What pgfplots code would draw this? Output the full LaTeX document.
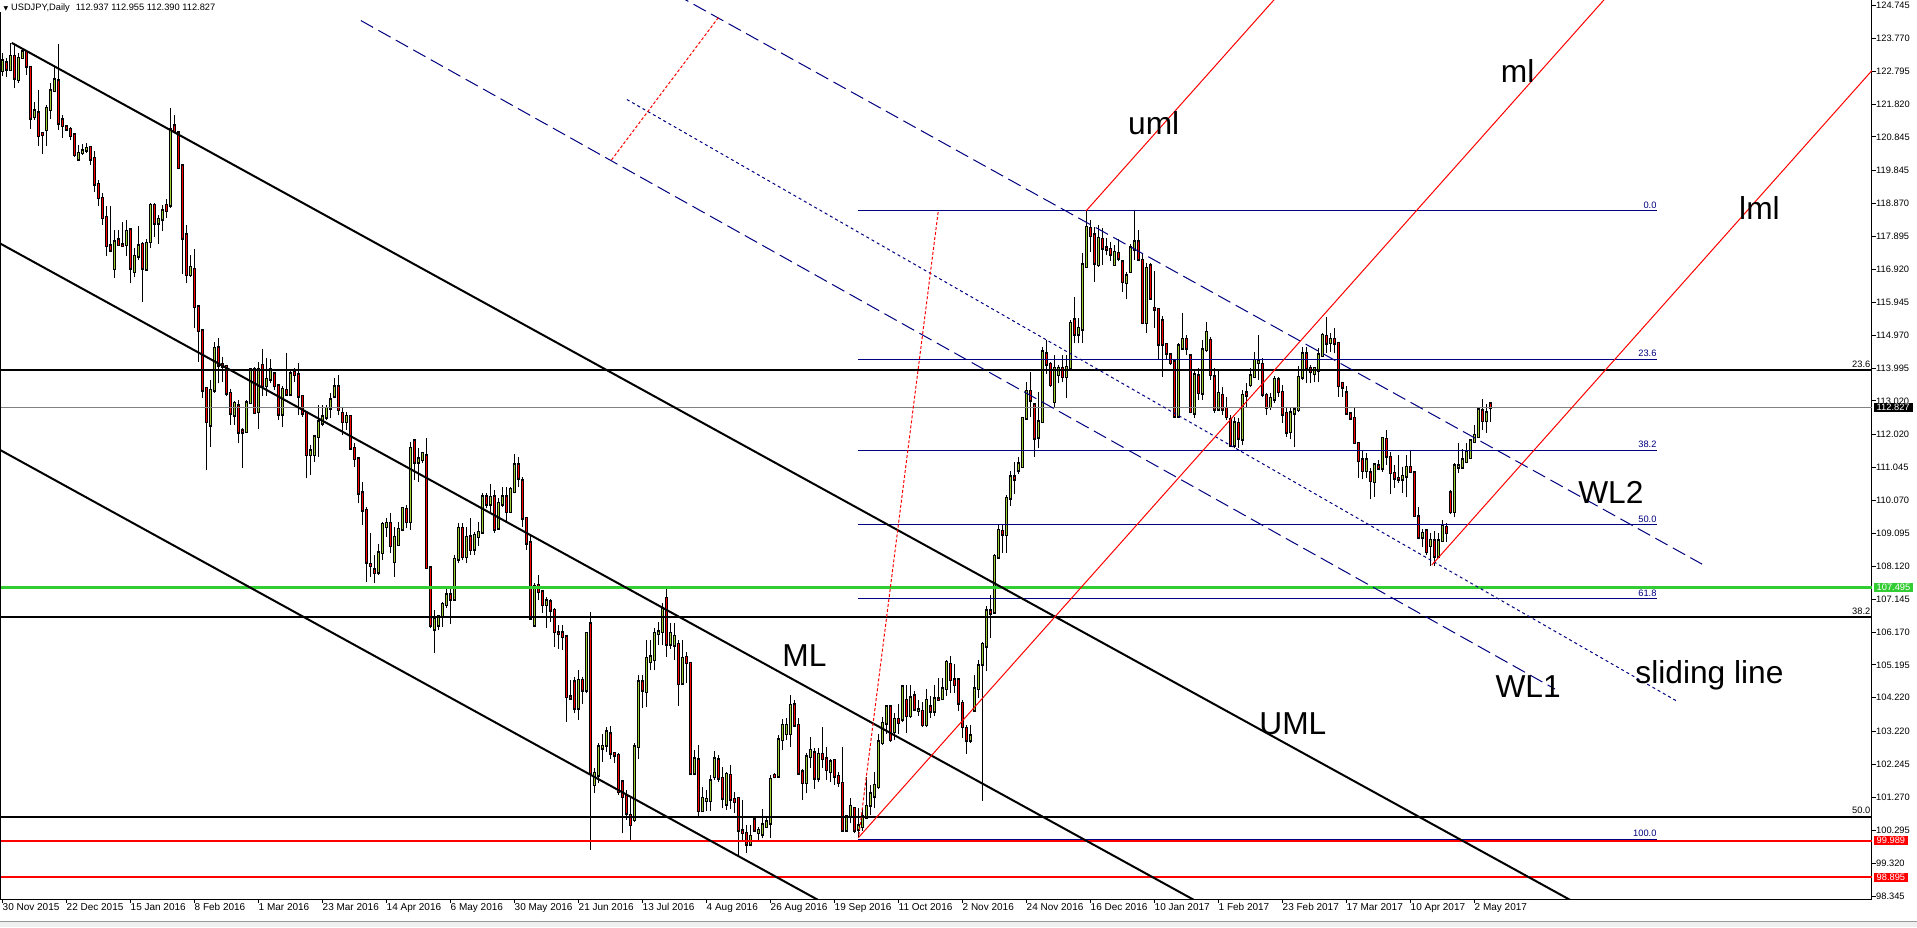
\documentclass[border=0pt]{standalone}
\usepackage{fontspec}
\setmainfont{Liberation Sans}
\newfontfamily\dejavu{DejaVu Sans}
\usepackage{pgfplots}
\usepackage{pgfplotstable}
\pgfplotsset{compat=1.18}
\definecolor{mtnavy}{RGB}{0,0,128}
\definecolor{mtgreen}{RGB}{50,205,50}
\definecolor{mtup}{RGB}{154,205,50}
\definecolor{mtgray}{RGB}{128,128,128}
\newcommand{\smallf}{\fontsize{9.3}{11}\selectfont}
\newcommand{\bigf}{\fontsize{31.7}{38}\selectfont}

% daily candles: bar index, open, high, low, close
\pgfplotstableread{
i o h l c
0 122.81 123.32 122.65 123.10
1 123.04 123.17 122.63 122.85
2 122.83 123.64 122.81 123.24
3 123.24 123.57 122.28 122.58
4 122.53 123.32 122.45 123.17
5 123.19 123.44 123.14 123.37
6 123.35 123.42 122.68 122.93
7 122.91 122.95 121.07 121.40
8 121.44 121.89 121.35 121.62
9 121.56 122.22 120.56 120.87
10 120.95 121.00 120.33 120.90
11 121.05 121.79 120.56 121.69
12 121.64 122.43 121.37 122.21
13 122.21 122.93 122.19 122.53
14 122.50 123.59 121.05 121.25
15 121.35 121.49 120.80 121.17
16 121.15 121.20 121.05 121.07
17 121.07 121.15 120.75 120.87
18 120.90 120.92 120.24 120.31
19 120.18 120.61 120.16 120.36
20 120.38 120.62 120.31 120.43
21 120.44 120.67 120.36 120.51
22 120.53 120.58 120.01 120.18
23 120.21 120.41 119.22 119.44
24 119.44 119.57 118.78 119.04
25 119.02 119.17 118.23 118.45
26 118.46 118.78 117.30 117.62
27 117.62 118.78 117.42 117.49
28 116.93 118.07 116.67 117.74
29 117.79 118.09 117.61 117.64
30 117.65 118.33 117.59 117.63
31 117.64 118.38 117.30 118.04
32 118.09 118.11 116.50 116.95
33 116.85 117.56 116.70 117.30
34 117.30 118.21 117.20 117.62
35 117.66 117.74 115.96 116.95
36 116.92 117.81 116.90 117.69
37 117.74 118.88 117.54 118.81
38 118.81 118.88 117.89 118.28
39 118.28 118.53 117.67 118.40
40 118.40 118.83 118.04 118.66
41 118.81 119.00 118.43 118.66
42 118.82 121.69 118.73 121.05
43 121.18 121.49 120.95 121.00
44 120.97 121.00 119.88 119.93
45 119.99 120.01 116.77 117.84
46 117.94 118.23 116.50 116.75
47 116.75 117.34 116.70 116.98
48 116.92 117.51 115.17 115.81
49 115.81 115.83 114.18 115.10
50 115.10 115.12 113.10 113.34
51 113.39 113.41 110.97 112.40
52 112.30 113.64 111.66 113.34
53 113.34 114.75 113.26 114.58
54 114.60 114.87 113.54 114.08
55 114.10 114.33 113.59 114.03
56 114.05 114.08 113.15 113.24
57 113.24 113.36 112.31 112.65
58 112.60 113.02 112.31 112.95
59 112.87 113.05 111.76 112.09
60 112.14 112.21 111.04 112.09
61 112.11 113.05 112.06 112.97
62 112.97 113.98 112.95 113.94
63 113.96 114.03 112.65 112.67
64 112.70 114.18 112.18 113.94
65 114.08 114.55 113.15 113.46
66 113.46 114.28 113.17 113.66
67 113.66 114.25 113.54 113.96
68 113.82 113.84 113.34 113.46
69 113.46 113.49 112.45 112.62
70 112.62 113.46 112.24 113.36
71 113.34 114.45 113.15 113.21
72 113.21 113.89 113.15 113.82
73 113.86 113.98 113.59 113.79
74 113.79 114.15 112.60 113.15
75 113.15 113.17 112.55 112.65
76 112.65 112.67 110.72 111.42
77 111.42 111.71 110.82 111.54
78 111.42 112.01 111.22 111.96
79 111.96 112.90 111.37 112.40
80 112.35 112.90 112.26 112.55
81 112.53 112.90 112.45 112.80
82 112.80 113.24 112.50 113.05
83 113.15 113.69 113.10 113.44
84 113.44 113.79 112.60 112.75
85 112.65 112.80 112.01 112.40
86 112.40 112.70 112.16 112.57
87 112.57 112.60 111.56 111.61
88 111.61 111.76 111.07 111.31
89 111.31 111.36 109.98 110.28
90 110.30 110.62 109.34 109.78
91 109.78 109.88 107.66 108.23
92 108.17 109.09 107.81 108.13
93 108.01 108.45 107.61 107.93
94 107.94 108.79 107.86 108.52
95 108.52 109.44 108.30 109.36
96 109.29 109.54 108.99 109.39
97 109.39 109.70 108.50 108.72
98 108.25 109.29 107.81 108.97
99 108.75 109.44 108.72 109.21
100 109.21 109.88 109.19 109.83
101 109.80 109.93 109.24 109.44
102 109.44 111.81 109.19 111.61
103 111.83 111.88 110.67 111.20
104 111.20 111.61 110.62 111.30
105 111.27 111.51 111.17 111.46
106 111.39 111.91 108.05 108.08
107 108.08 108.10 106.28 106.37
108 106.25 106.82 105.54 106.54
109 106.37 106.67 106.23 106.62
110 106.62 107.07 106.33 106.99
111 106.97 107.51 106.87 107.27
112 107.27 107.51 106.42 107.14
113 107.14 108.45 107.12 108.32
114 108.32 109.39 108.20 109.24
115 109.24 109.39 108.30 108.40
116 108.40 109.29 108.20 108.97
117 108.99 109.54 108.45 108.60
118 108.62 109.14 108.45 109.04
119 108.99 109.44 108.72 109.12
120 109.12 110.28 109.09 110.18
121 110.18 110.28 109.83 109.96
122 109.96 110.57 109.70 110.16
123 110.18 110.38 109.09 109.21
124 109.24 110.13 109.21 109.98
125 109.96 110.48 109.88 110.18
126 110.18 110.48 109.44 109.73
127 109.73 110.48 109.70 110.40
128 110.33 111.43 110.28 111.12
129 111.12 111.36 110.48 110.72
130 110.65 110.77 109.29 109.54
131 109.54 109.59 108.60 108.80
132 108.82 109.04 106.55 106.57
133 106.37 107.61 106.33 107.53
134 107.56 107.86 107.12 107.36
135 107.36 107.38 106.72 106.97
136 106.97 107.22 106.28 107.10
137 107.07 107.14 106.47 106.82
138 106.82 106.87 105.73 106.18
139 106.15 106.38 105.68 106.11
140 106.15 106.38 105.63 106.03
141 106.03 106.05 103.51 104.25
142 104.25 104.75 104.15 104.20
143 104.70 104.84 103.76 103.91
144 103.91 105.04 103.56 104.74
145 104.74 104.84 104.05 104.45
146 104.45 106.18 104.35 106.13
147 106.42 106.77 99.71 101.98
148 101.64 102.13 101.39 101.98
149 101.93 102.87 101.68 102.77
150 102.72 103.16 102.32 102.79
151 102.82 103.36 102.62 103.21
152 103.16 103.38 102.42 102.57
153 102.57 102.62 102.28 102.52
154 102.52 102.57 101.34 101.44
155 101.73 101.78 100.20 101.29
156 101.31 101.49 100.60 100.79
157 100.74 101.29 100.00 100.45
158 100.60 102.87 100.55 102.77
159 102.77 104.89 102.42 104.70
160 104.70 104.89 103.91 104.45
161 104.40 105.93 103.96 105.39
162 105.29 105.93 105.04 105.44
163 105.34 106.28 105.04 106.13
164 106.11 106.47 105.78 106.18
165 106.18 107.02 105.78 106.84
166 107.17 107.46 105.44 105.80
167 105.81 106.43 105.68 106.13
168 105.78 106.43 105.34 106.05
169 105.80 105.93 103.97 104.63
170 104.65 105.93 104.60 105.39
171 105.42 105.59 104.65 105.26
172 105.24 105.29 101.93 101.98
173 101.98 102.67 101.93 102.42
174 102.39 102.82 100.69 100.87
175 100.87 101.58 100.84 101.24
176 101.17 101.48 100.87 101.21
177 101.17 101.93 100.87 101.76
178 101.88 102.65 101.78 102.42
179 102.39 102.52 101.73 101.83
180 101.83 102.18 100.94 101.24
181 101.07 102.03 100.89 101.96
182 101.93 102.23 100.91 101.21
183 101.21 101.44 100.79 101.14
184 101.24 101.27 99.51 100.30
185 100.28 101.19 99.95 100.22
186 100.20 100.45 99.63 99.88
187 99.88 100.45 99.85 100.12
188 100.60 100.69 100.25 100.30
189 100.22 100.40 99.95 100.30
190 100.18 100.91 100.05 100.45
191 100.40 100.69 100.35 100.54
192 100.50 101.93 100.05 101.80
193 101.93 102.00 101.83 101.88
194 101.90 103.12 101.88 102.97
195 102.97 103.58 102.67 103.41
196 103.16 103.61 102.97 103.41
197 103.16 104.30 102.77 104.00
198 104.02 104.15 103.36 103.41
199 103.41 103.61 101.93 101.99
200 102.03 102.10 101.19 101.70
201 101.70 102.57 101.39 102.47
202 102.47 103.07 102.13 102.67
203 102.59 102.72 101.53 101.83
204 101.83 102.72 101.73 102.55
205 102.55 103.36 102.13 102.42
206 102.42 102.77 101.78 102.08
207 102.03 102.42 101.73 102.32
208 102.37 102.42 101.63 101.90
209 101.90 102.03 101.58 101.70
210 101.68 102.77 100.28 100.30
211 100.30 100.74 100.25 100.71
212 100.69 101.24 100.50 101.00
213 100.94 100.96 100.20 100.30
214 100.32 100.94 100.10 100.42
215 100.40 100.94 100.28 100.69
216 100.67 101.88 100.65 101.01
217 101.04 101.63 100.74 101.38
218 101.30 102.03 100.94 101.63
219 101.58 103.16 101.53 102.92
220 102.89 103.66 102.82 103.46
221 103.46 104.00 103.16 103.95
222 103.95 104.00 102.92 102.97
223 103.22 103.78 102.97 103.58
224 103.58 104.05 103.16 103.48
225 103.58 104.61 103.49 104.55
226 104.15 104.61 103.18 103.69
227 103.69 104.61 103.62 104.22
228 104.28 104.41 103.82 103.88
229 103.84 104.15 103.69 103.86
230 103.82 104.08 103.36 103.42
231 103.42 104.48 103.36 104.15
232 103.95 104.28 103.62 103.82
233 103.82 104.61 103.69 104.19
234 104.19 104.81 104.15 104.17
235 104.19 104.81 104.15 104.48
236 104.48 105.34 104.28 105.27
237 105.21 105.47 104.35 104.75
238 104.75 105.21 104.35 104.61
239 104.75 104.77 103.82 104.06
240 104.06 104.15 103.02 103.36
241 103.32 103.42 102.56 102.96
242 102.96 103.42 102.89 103.09
243 103.85 104.88 103.82 104.48
244 104.48 105.34 104.22 105.17
245 105.21 105.87 101.17 105.80
246 105.74 106.93 105.01 106.80
247 106.80 107.26 106.00 106.73
248 106.76 108.48 106.73 108.41
249 108.38 109.38 108.38 109.18
250 109.15 109.38 108.52 109.07
251 109.05 110.24 108.52 110.14
252 110.14 110.95 109.90 110.77
253 110.77 111.20 110.25 110.70
254 110.97 111.36 110.85 111.15
255 111.07 112.52 111.05 112.50
256 112.50 113.59 112.47 113.31
257 113.31 113.88 112.55 113.04
258 112.90 112.92 111.36 111.91
259 111.94 113.29 111.61 112.40
260 112.40 114.63 112.35 114.48
261 114.41 114.82 113.83 114.11
262 114.11 114.18 113.44 113.49
263 112.99 114.38 112.85 113.98
264 113.79 114.08 113.54 113.98
265 113.98 114.38 113.59 113.74
266 113.74 114.38 113.09 114.01
267 113.98 115.42 113.93 115.32
268 115.42 116.11 114.72 115.00
269 115.00 115.47 114.72 115.17
270 115.14 117.39 114.74 117.05
271 116.99 118.66 116.95 118.16
272 118.13 118.38 117.44 117.92
273 117.94 118.18 116.55 117.10
274 117.05 118.23 116.98 117.84
275 117.81 118.13 117.05 117.54
276 117.56 117.84 117.34 117.51
277 117.51 117.74 117.15 117.37
278 117.05 117.64 117.02 117.42
279 117.39 117.81 117.15 117.24
280 117.14 117.19 116.26 116.55
281 116.52 116.85 116.03 116.73
282 116.85 117.67 116.82 117.56
283 117.51 118.66 117.19 117.74
284 117.74 118.08 117.19 117.21
285 117.19 117.41 115.32 115.34
286 115.34 117.10 115.04 116.95
287 117.02 117.10 116.01 116.06
288 115.76 116.88 115.17 115.73
289 115.74 115.76 114.23 114.70
290 115.39 115.52 113.74 114.70
291 114.70 114.73 114.23 114.43
292 114.38 114.43 114.08 114.15
293 114.18 114.23 112.55 112.57
294 112.57 114.73 112.50 114.65
295 114.58 115.61 114.53 114.85
296 114.85 114.97 114.38 114.58
297 114.35 114.38 112.65 112.70
298 112.65 113.93 112.50 113.79
299 113.76 113.98 113.04 113.26
300 113.24 114.82 113.04 114.53
301 114.53 115.37 114.48 115.05
302 114.82 114.92 113.64 113.79
303 113.74 113.98 112.65 112.77
304 112.77 113.93 112.75 113.24
305 113.19 113.44 112.60 112.77
306 112.80 113.14 112.45 112.55
307 112.47 112.60 111.69 111.71
308 111.71 112.55 111.61 112.37
309 112.35 112.50 111.61 111.91
310 111.88 113.34 111.71 113.19
311 113.26 113.54 112.85 113.19
312 113.49 113.98 113.44 113.76
313 113.74 114.48 113.69 114.23
314 114.15 114.97 113.64 114.20
315 114.10 114.28 113.14 113.22
316 113.19 113.24 112.60 112.83
317 112.85 113.24 112.75 113.09
318 113.06 113.76 112.95 113.66
319 113.64 113.74 113.14 113.29
320 113.27 113.49 112.37 112.62
321 112.65 112.83 111.96 112.09
322 112.10 112.85 111.88 112.67
323 112.65 112.85 111.66 112.75
324 112.75 114.05 112.70 113.72
325 113.72 114.62 113.64 114.41
326 114.41 114.62 113.56 113.98
327 113.98 114.08 113.54 113.88
328 113.82 114.03 113.59 113.98
329 113.93 114.58 113.59 114.38
330 114.35 115.02 114.33 114.97
331 114.94 115.51 114.45 114.72
332 114.74 115.02 114.48 114.84
333 114.84 115.17 114.43 114.72
334 114.72 114.77 113.14 113.46
335 113.54 113.59 113.14 113.42
336 113.26 113.46 112.60 112.65
337 112.63 112.70 112.45 112.50
338 112.50 112.83 111.76 111.78
339 111.76 111.78 110.72 111.25
340 111.27 111.56 110.69 110.95
341 110.95 111.46 110.72 111.28
342 110.89 111.02 110.10 110.65
343 110.62 111.19 110.18 111.12
344 111.09 111.27 110.97 111.02
345 111.02 111.96 110.92 111.91
346 111.88 112.17 111.12 111.38
347 111.35 111.51 110.26 110.89
348 110.87 111.12 110.43 110.72
349 110.72 111.41 110.59 110.69
350 110.69 111.05 110.28 110.79
351 110.79 111.41 110.16 111.05
352 111.05 111.54 110.92 110.92
353 110.89 110.92 109.59 109.61
354 109.59 109.88 108.94 108.97
355 108.97 109.21 108.70 109.09
356 109.17 109.19 108.45 108.55
357 108.72 109.09 108.12 108.89
358 108.87 109.17 108.12 108.42
359 108.42 109.09 108.40 108.87
360 108.87 109.49 108.84 109.31
361 109.27 109.39 108.84 109.11
362 110.30 110.38 109.68 109.73
363 109.73 111.17 109.57 111.09
364 111.05 111.76 110.87 111.09
365 111.05 111.58 111.02 111.27
366 111.22 111.76 111.17 111.51
367 111.34 111.88 111.29 111.84
368 111.81 112.30 111.76 112.00
369 111.96 112.83 111.94 112.75
370 112.73 113.06 112.15 112.43
371 112.43 112.94 112.08 112.67
372 112.937 112.955 112.390 112.827
}\candles

\begin{document}
\begin{tikzpicture}
\useasboundingbox (0pt,0pt) rectangle (1917pt,927pt);
\fill[white] (0pt,0pt) rectangle (1917pt,927pt);
\begin{axis}[
    at={(0pt,28pt)}, anchor=south west,
    scale only axis, width=1872pt, height=899pt,
    xmin=-0.625, xmax=467.375, ymin=98.256, ymax=124.90,
    axis x line*=bottom, axis y line*=right,
    axis line style={black, line width=1pt},
    tick align=outside, major tick length=4pt,
    tick style={black, line width=0.8pt},
    xtick={0,16,...,368},
    xticklabels={30 Nov 2015,22 Dec 2015,15 Jan 2016,8 Feb 2016,1 Mar 2016,23 Mar 2016,14 Apr 2016,6 May 2016,30 May 2016,21 Jun 2016,13 Jul 2016,4 Aug 2016,26 Aug 2016,19 Sep 2016,11 Oct 2016,2 Nov 2016,24 Nov 2016,16 Dec 2016,10 Jan 2017,1 Feb 2017,23 Feb 2017,17 Mar 2017,10 Apr 2017,2 May 2017},
    xticklabel style={anchor=north west, inner sep=0pt, font=\fontsize{10}{12}\selectfont},
    ytick={124.745,123.770,122.795,121.820,120.845,119.845,118.870,117.895,116.920,115.945,114.970,113.995,113.020,112.020,111.045,110.070,109.095,108.120,107.145,106.170,105.195,104.220,103.220,102.245,101.270,100.295,99.320,98.345},
    yticklabels={124.745,123.770,122.795,121.820,120.845,119.845,118.870,117.895,116.920,115.945,114.970,113.995,113.020,112.020,111.045,110.070,109.095,108.120,107.145,106.170,105.195,104.220,103.220,102.245,101.270,100.295,99.320,98.345},
    yticklabel style={anchor=west, inner sep=0pt, font=\smallf},
    clip mode=individual,
    colormap={updown}{rgb255(0)=(255,0,0) rgb255(1)=(154,205,50)},
    point meta min=0, point meta max=1,
]
% candles
\addplot[black, quiver={u=0, v=\thisrow{h}-\thisrow{l},
    every arrow/.append style={-, line width=1pt}}] table[x=i, y=l] {\candles};
\addplot[black, quiver={u=0, v=\thisrow{c}-\thisrow{o},
    every arrow/.append style={-, line width=3pt, line cap=rect}}] table[x=i, y=o] {\candles};
\addplot[point meta={\thisrow{c}>\thisrow{o}},
    quiver={u=0, v=\thisrow{c}-\thisrow{o}, colored,
    every arrow/.append style={-, line width=1.1pt}}] table[x=i, y=o] {\candles};

% horizontal levels
\addplot[black, line width=2pt] coordinates {(-2,113.935) (470,113.935)};
\addplot[black, line width=2pt] coordinates {(-2,106.61) (470,106.61)};
\addplot[black, line width=2pt] coordinates {(-2,100.695) (470,100.695)};
\addplot[mtgray, line width=1pt] coordinates {(-2,112.827) (470,112.827)};
\addplot[mtnavy, line width=1pt] coordinates {(213.95,118.65) (413.55,118.65)};
\addplot[mtnavy, line width=1pt] coordinates {(213.95,114.258) (413.55,114.258)};
\addplot[mtnavy, line width=1pt] coordinates {(213.95,111.541) (413.55,111.541)};
\addplot[mtnavy, line width=1pt] coordinates {(213.95,109.345) (413.55,109.345)};
\addplot[mtnavy, line width=1pt] coordinates {(213.95,107.149) (413.55,107.149)};
\addplot[mtnavy, line width=1pt] coordinates {(213.95,100.01) (413.55,100.01)};
\addplot[mtgreen, line width=3pt] coordinates {(-2,107.495) (470,107.495)};
\addplot[red, line width=2pt] coordinates {(-2,99.989) (470,99.989)};
\addplot[red, line width=2pt] coordinates {(-2,98.895) (470,98.895)};

% black pitchfork
\addplot[black, line width=2pt] coordinates {(2.3,123.63) (424.4,96.11)};
\addplot[black, line width=2pt] coordinates {(-5.6,118.01) (349.4,94.87)};
\addplot[black, line width=2pt] coordinates {(-5.6,111.89) (249.4,95.26)};

% blue pitchfork
\addplot[mtnavy, line width=1pt, dash pattern=on 14pt off 6pt] coordinates {(168.4,125.06) (424.9,108.18)};
\addplot[mtnavy, line width=1pt, dash pattern=on 14pt off 6pt] coordinates {(89.6,124.29) (388.1,104.48)};
\addplot[mtnavy, line width=1pt, dash pattern=on 3pt off 3pt] coordinates {(156.1,121.95) (418.9,104.10)};
\addplot[red, line width=1pt, dash pattern=on 3pt off 2pt] coordinates {(152.25,120.16) (179.1,124.40)};

% red pitchfork and fibo trend line
\addplot[red, line width=1pt, dash pattern=on 3pt off 2pt] coordinates {(214.1,100.15) (233.95,118.65)};
\addplot[red, line width=1pt] coordinates {(213.95,100.07) (402.6,125.2)};
\addplot[red, line width=1pt] coordinates {(270.9,118.65) (320.1,125.2)};
\addplot[red, line width=1pt] coordinates {(357.3,108.15) (470,123.16)};

% left border
\draw[black, line width=1pt] (rel axis cs:0,0) -- (rel axis cs:0,0.987);

% level labels
\begin{scope}[every node/.style={font=\smallf, inner sep=0pt, anchor=south east, yshift=2.5pt}]
\node[text=mtnavy] at (axis cs:413.55,118.65) {0.0};
\node[text=mtnavy] at (axis cs:413.55,114.258) {23.6};
\node[text=mtnavy] at (axis cs:413.55,111.541) {38.2};
\node[text=mtnavy] at (axis cs:413.55,109.345) {50.0};
\node[text=mtnavy] at (axis cs:413.55,107.149) {61.8};
\node[text=mtnavy] at (axis cs:413.55,100.04) {100.0};
\node at (axis cs:467.0,113.935) {23.6};
\node at (axis cs:467.0,106.61) {38.2};
\node at (axis cs:467.0,100.695) {50.0};
\end{scope}

% annotations
\begin{scope}[every node/.style={font=\bigf, inner sep=0pt, anchor=base}]
\node at (axis cs:287.8,120.91) {uml};
\node at (axis cs:378.8,122.45) {ml};
\node at (axis cs:439.25,118.38) {lml};
\node at (axis cs:402.1,109.98) {WL2};
\node at (axis cs:381.4,104.22) {WL1};
\node at (axis cs:426.75,104.63) {sliding line};
\node at (axis cs:200.5,105.14) {ML};
\node at (axis cs:322.6,103.14) {UML};
\end{scope}

\node[font=\smallf, inner sep=0pt, anchor=base west] at (axis cs:0.2,124.60)
  {{\dejavu\fontsize{6}{7}\selectfont ▼}\hspace{3pt}USDJPY,Daily\hspace{6pt}112.937 112.955 112.390 112.827};

\coordinate (p1) at (axis cs:467.375,112.827);
\coordinate (p2) at (axis cs:467.375,107.495);
\coordinate (p3) at (axis cs:467.375,99.989);
\coordinate (p4) at (axis cs:467.375,98.895);
\end{axis}

\begin{scope}[every node/.style={font=\smallf, text=white, anchor=west, inner xsep=3pt, inner ysep=1.4pt, xshift=1.5pt}]
\node[fill=black] at (p1) {112.827};
\node[fill=mtgreen] at (p2) {107.495};
\node[fill=red] at (p3) {99.989};
\node[fill=red] at (p4) {98.895};
\end{scope}

\fill[black!6] (0pt,0pt) rectangle (1917pt,6pt);
\draw[black!40, line width=1pt] (0pt,6pt) -- (1917pt,6pt);
\end{tikzpicture}
\end{document}
